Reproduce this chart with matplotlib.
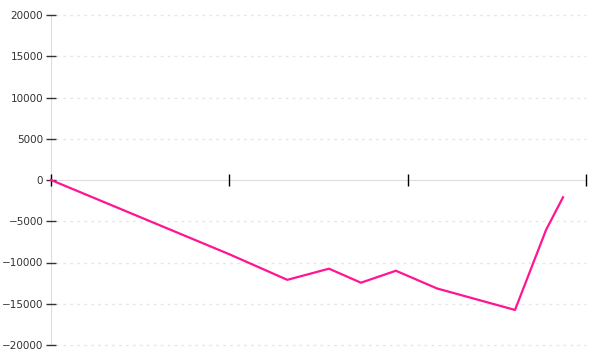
import matplotlib
matplotlib.use("Agg")
import matplotlib.pyplot as plt

x_vals = [0, 0.5, 1.0, 1.325, 1.559, 1.738, 1.934, 2.165, 2.602, 2.776, 2.871]
y_vals = [0, -4500, -9000, -12100, -10750, -12450, -11000, -13150, -15750, -6050, -2100]
y_ticks = [-20000, -15000, -10000, -5000, 0, 5000, 10000, 15000, 20000]
x_ticks = [0, 1, 2, 3]

fig = plt.figure(figsize=(6, 3.6), dpi=100)
ax = fig.add_axes([51/600, 1-345/360, (586-51)/600, 330/360])
ax.set_xlim(0, 3)
ax.set_ylim(-20000, 20000)

for yt in y_ticks:
    if yt != 0:
        ax.plot([0.03, 3], [yt, yt], color="#e6e6e6", lw=1, ls=(0, (2, 3)), zorder=1, clip_on=False)

ax.plot(x_vals, y_vals, color="#ff1493", lw=1.6, zorder=3, clip_on=False)

for s in ["top", "right"]:
    ax.spines[s].set_visible(False)
ax.spines["left"].set_color("#dddddd")
ax.spines["left"].set_zorder(0.5)
ax.spines["bottom"].set_position(("data", 0))
ax.spines["bottom"].set_color("#dddddd")
ax.spines["bottom"].set_zorder(0.5)
ax.xaxis.set_zorder(2)
ax.yaxis.set_zorder(2)

ax.set_yticks(y_ticks)
ax.set_yticklabels([str(v).replace("-", "\u2212") for v in y_ticks], fontsize=7.5, color="#333333")
ax.tick_params(axis="y", direction="inout", length=7, width=1, color="#333333", pad=2)
ax.set_xticks(x_ticks)
ax.set_xticklabels([])
ax.tick_params(axis="x", direction="inout", length=9, width=1, color="#000000")

fig.savefig("out.png", dpi=100)
